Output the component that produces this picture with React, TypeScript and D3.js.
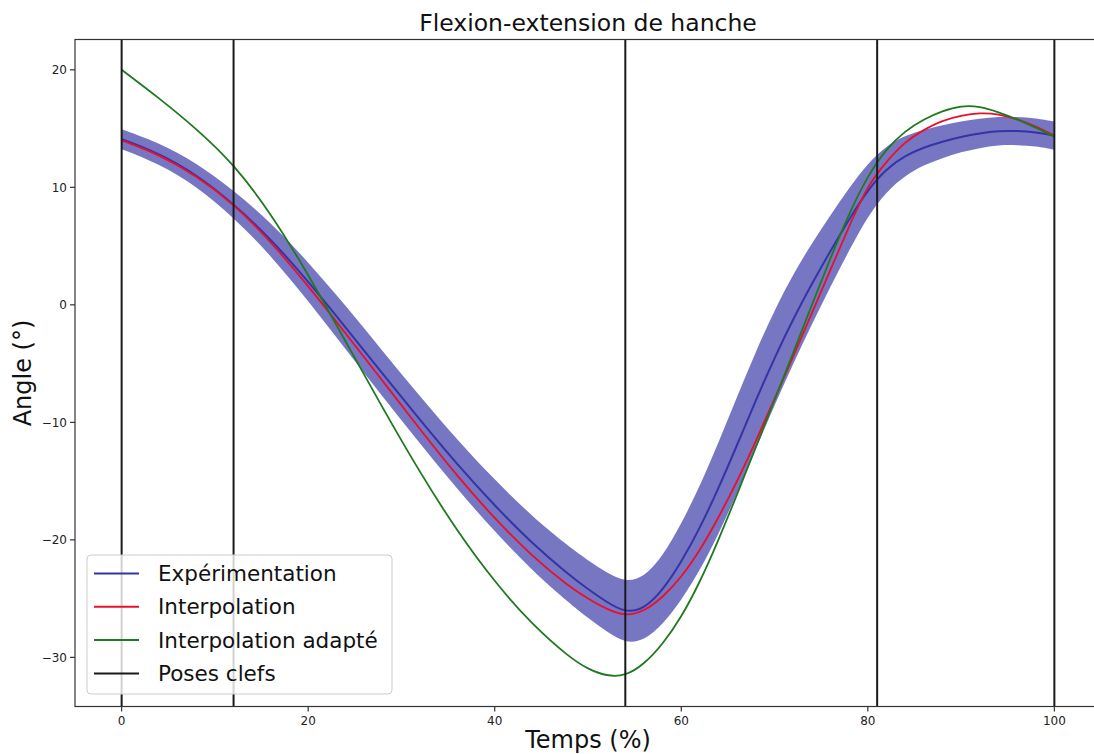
import React from "react";
import * as d3 from "d3";

// ---- data ----
const timePct = [0, 4, 8, 12, 16, 20, 24, 28, 32, 36, 40, 44, 48, 50, 52, 54, 56, 58, 60, 62, 64, 66, 68, 70, 72, 74, 76, 78, 80, 82, 84, 86, 88, 90, 92, 94, 96, 98, 100];

const experimentMean = [14.1, 12.9, 11.1, 8.6, 5.6, 2.0, -1.9, -5.9, -9.8, -13.6, -17.1, -20.3, -23.0, -24.2, -25.3, -26.2, -25.9, -24.3, -21.9, -19.0, -15.6, -11.9, -8.1, -4.5, -1.2, 1.8, 4.6, 7.3, 9.8, 11.6, 12.7, 13.4, 13.9, 14.3, 14.6, 14.8, 14.8, 14.7, 14.4];

const experimentStd = [0.85, 0.9, 1.0, 1.15, 1.4, 1.65, 1.85, 1.95, 2.0, 2.1, 2.2, 2.3, 2.4, 2.45, 2.5, 2.6, 2.7, 2.9, 3.25, 3.6, 3.9, 4.1, 4.15, 4.05, 3.8, 3.45, 3.05, 2.65, 2.25, 1.95, 1.7, 1.5, 1.4, 1.3, 1.25, 1.2, 1.2, 1.2, 1.2];

const interpolation = [14.0, 12.8, 11.0, 8.6, 5.4, 1.6, -2.4, -6.5, -10.6, -14.6, -18.2, -21.4, -24.0, -25.0, -25.9, -26.5, -26.1, -24.9, -23.2, -20.9, -18.1, -15.0, -11.6, -8.0, -4.4, -0.7, 3.0, 6.7, 10.2, 12.2, 13.9, 14.9, 15.7, 16.1, 16.35, 16.25, 15.8, 15.2, 14.4];

const interpolationAdapted = [20.0, 17.6, 15.0, 12.0, 7.8, 2.6, -3.1, -8.8, -14.3, -19.3, -23.6, -27.2, -30.0, -31.0, -31.6, -31.6, -30.6, -28.9, -26.6, -23.6, -20.0, -16.1, -12.1, -8.1, -4.1, 0.0, 4.0, 7.8, 11.0, 13.3, 14.8, 15.8, 16.5, 16.95, 16.9, 16.4, 15.8, 15.1, 14.3];

const keyPoses = [0, 12, 54, 81, 100];

const xTicks = [0, 20, 40, 60, 80, 100];
const yTicks = [-30, -20, -10, 0, 10, 20];

const legendLabels = ["Expérimentation", "Interpolation", "Interpolation adapté", "Poses clefs"];
const legendColors = ["#3434a6", "#e8102a", "#1f7a1f", "#1a1a1a"];

const title = "Flexion-extension de hanche";
const xLabel = "Temps (%)";
const yLabel = "Angle (°)";

// ---- layout ----
const W = 1094;
const H = 754;
const plot = { left: 75, right: 1101, top: 39.5, bottom: 706.5 };
const FONT = "DejaVu Sans, Liberation Sans, sans-serif";

export default function App() {
  const xMin = d3.min(timePct)!;
  const xMax = d3.max(timePct)!;
  const xPad = (xMax - xMin) * 0.05;
  const x = d3.scaleLinear().domain([xMin - xPad, xMax + xPad]).range([plot.left, plot.right]);

  const lows = experimentMean.map((m, i) => m - experimentStd[i]);
  const highs = experimentMean.map((m, i) => m + experimentStd[i]);
  const allY = [...lows, ...highs, ...interpolation, ...interpolationAdapted];
  const yMin = d3.min(allY)!;
  const yMax = d3.max(allY)!;
  const yPad = (yMax - yMin) * 0.05;
  const y = d3.scaleLinear().domain([yMin - yPad, yMax + yPad]).range([plot.bottom, plot.top]);

  const curve = d3.curveBasis;
  const idx = timePct.map((_, i) => i);

  const band = d3
    .area<number>()
    .x((i) => x(timePct[i]))
    .y0((i) => y(lows[i]))
    .y1((i) => y(highs[i]))
    .curve(curve);

  const lineOf = (vals: number[]) =>
    d3
      .line<number>()
      .x((i) => x(timePct[i]))
      .y((i) => y(vals[i]))
      .curve(curve)(idx) || "";

  const fmt = d3.format("d");

  const legend = { x: 87, y: 555, w: 305, h: 139, rowY0: 573.5, rowStep: 33.3 };

  return (
    <svg
      width={W}
      height={H}
      style={{ position: "absolute", left: 0, top: 0, background: "#fff" }}
      fontFamily={FONT}
    >
      <defs>
        <clipPath id="plotClip">
          <rect x={plot.left} y={plot.top} width={plot.right - plot.left} height={plot.bottom - plot.top} />
        </clipPath>
      </defs>
      <rect x={0} y={0} width={W} height={H} fill="#fff" />

      <g clipPath="url(#plotClip)">
        <path d={band(idx) || ""} fill="#1a1a9a" fillOpacity={0.6} stroke="none" />
        <path d={lineOf(experimentMean)} fill="none" stroke={legendColors[0]} strokeWidth={2} />
        <path d={lineOf(interpolation)} fill="none" stroke={legendColors[1]} strokeWidth={1.8} />
        <path d={lineOf(interpolationAdapted)} fill="none" stroke={legendColors[2]} strokeWidth={1.8} />
        {keyPoses.map((k) => (
          <line key={k} x1={x(k)} x2={x(k)} y1={plot.top} y2={plot.bottom} stroke="#1a1a1a" strokeWidth={2} />
        ))}
      </g>

      {/* spines */}
      <rect
        x={plot.left}
        y={plot.top}
        width={plot.right - plot.left}
        height={plot.bottom - plot.top}
        fill="none"
        stroke="#333"
        strokeWidth={1.2}
      />

      {/* x ticks */}
      {xTicks.map((t) => (
        <g key={"x" + t} transform={`translate(${x(t)},${plot.bottom})`}>
          <line y1={0} y2={5} stroke="#333" strokeWidth={1.2} />
          <text y={18} textAnchor="middle" fontSize={12} fill="#222">
            {fmt(t)}
          </text>
        </g>
      ))}
      {/* y ticks */}
      {yTicks.map((t) => (
        <g key={"y" + t} transform={`translate(${plot.left},${y(t)})`}>
          <line x1={0} x2={-5} stroke="#333" strokeWidth={1.2} />
          <text x={-8} dy="0.35em" textAnchor="end" fontSize={12} fill="#222">
            {fmt(t)}
          </text>
        </g>
      ))}

      {/* title & labels */}
      <text x={(plot.left + plot.right) / 2} y={31} textAnchor="middle" fontSize={23.5} fill="#111">
        {title}
      </text>
      <text x={(plot.left + plot.right) / 2} y={748} textAnchor="middle" fontSize={24} fill="#111">
        {xLabel}
      </text>
      <text
        transform={`translate(31,${(plot.top + plot.bottom) / 2}) rotate(-90)`}
        textAnchor="middle"
        fontSize={24}
        fill="#111"
      >
        {yLabel}
      </text>

      {/* legend */}
      <g>
        <rect
          x={legend.x}
          y={legend.y}
          width={legend.w}
          height={legend.h}
          rx={4}
          fill="#fff"
          fillOpacity={0.8}
          stroke="#cccccc"
          strokeWidth={1}
        />
        {legendLabels.map((lab, i) => {
          const ry = legend.rowY0 + i * legend.rowStep;
          return (
            <g key={lab}>
              <line x1={94} x2={139} y1={ry} y2={ry} stroke={legendColors[i]} strokeWidth={2} />
              <text x={158} y={ry} dy="0.35em" fontSize={21.5} fill="#111">
                {lab}
              </text>
            </g>
          );
        })}
      </g>
    </svg>
  );
}
